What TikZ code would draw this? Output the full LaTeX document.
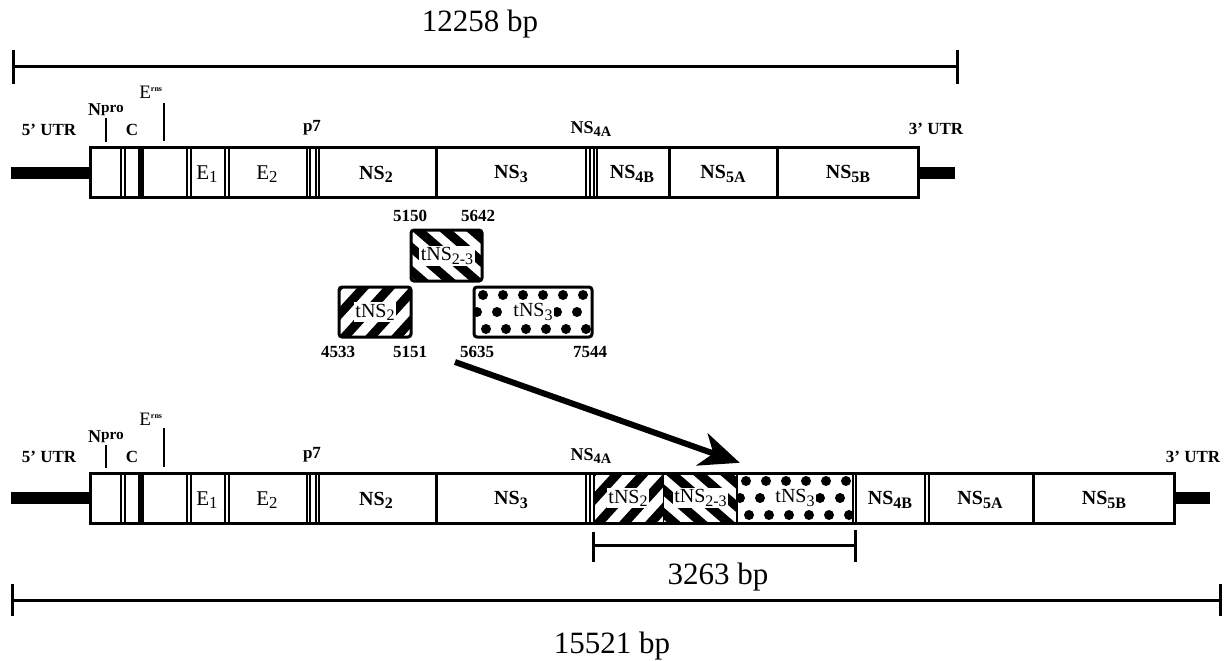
\documentclass[tikz,border=0pt]{standalone}
\usepackage{fontspec}
\usepackage{graphicx}
\setmainfont{Liberation Serif}
\usetikzlibrary{arrows.meta}
\newcommand\sbs[1]{\raisebox{-0.35ex}{\scalebox{0.8}{#1}}}
\newcommand\sps[1]{\raisebox{0.45ex}{\scalebox{0.85}{#1}}}
\tikzset{
 lbl/.style={font=\fontsize{17}{19}\selectfont\bfseries, inner sep=0pt},
 boxlbl/.style={font=\fontsize{20}{22}\selectfont\bfseries, inner sep=0pt},
 elbl/.style={font=\fontsize{21}{23}\selectfont, inner sep=0pt},
 numlbl/.style={font=\fontsize{17}{19}\selectfont\bfseries, inner sep=0pt},
 tlbl/.style={font=\fontsize{20}{22}\selectfont, fill=white, inner sep=1.5pt},
 bplbl/.style={font=\fontsize{31}{34}\selectfont, inner sep=0pt},
 outline/.style={line width=3pt},
 divl/.style={line width=2pt},
 divk/.style={line width=3pt},
 utrbar/.style={line width=12pt},
 scalebar/.style={line width=3pt},
 tickl/.style={line width=2pt},
 frag/.style={line width=3pt, rounded corners=3pt},
 bigarrow/.style={line width=6pt, -{Stealth[length=40pt,width=34pt,inset=12pt]}},
}
\newcommand\stripeup[4]{%
 \begin{scope}
 \clip[rounded corners=3pt] (#1,#2) rectangle (#3,#4);
 \foreach \i in {-3,...,5} \draw[line width=9pt] ({#1+\i*26},{#4+6}) -- ++(62,-68);
 \end{scope}}
\newcommand\stripedown[4]{%
 \begin{scope}
 \clip[rounded corners=3pt] (#1,#2) rectangle (#3,#4);
 \foreach \i in {-4,...,5} \draw[line width=9pt] ({#1+\i*27},{#2-6}) -- ++(74,64);
 \end{scope}}
\newcommand\dotpat[4]{%
 \begin{scope}
 \clip (#1,#2) rectangle (#3,#4);
 \foreach \i in {0,...,6} {
   \fill ({#1+9+\i*20},{#2+8}) circle (5);
   \fill ({#1+3+\i*20},{#2+25}) circle (5);
   \fill ({#1+12+\i*20},{#2+42}) circle (5);
 }
 \end{scope}}
\begin{document}
\begin{tikzpicture}[x=1pt,y=-1pt]
\useasboundingbox (0,0) rectangle (1229,661);

% ---------- top scale bar
\coordinate (sa1) at (13,67);
\coordinate (sa2) at (957,67);
\draw[scalebar] (sa1) -- (sa2);
\draw[scalebar] (13,50) -- (13,84);
\draw[scalebar] (957,50) -- (957,84);
\node[bplbl] (bp1) at (480,24) {12258 bp};

% ---------- top row
\draw[utrbar] (11,172.5) -- (90,172.5);
\draw[utrbar] (918,172.5) -- (955,172.5);
\draw[outline] (90,147) rectangle (918,197);
\foreach \xx in {121,125,187,190.5,225,228.5,306.5,309.5,316,319,586,589.5,593.5,597}
  \draw[divl] (\xx,147) -- (\xx,197);
\foreach \xx in {436,669.5,777}
  \draw[divk] (\xx,147) -- (\xx,197);
\fill (138,147) rectangle (144,197);
\node[elbl] (tE1) at (207,174) {E\sbs{1}};
\node[elbl] (tE2) at (267,174) {E\sbs{2}};
\node[boxlbl] (tNS2) at (376,174) {NS\sbs{2}};
\node[boxlbl] (tNS3) at (511,174) {NS\sbs{3}};
\node[boxlbl] (tNS4B) at (632,174) {NS\sbs{4B}};
\node[boxlbl] (tNS5A) at (723,174) {NS\sbs{5A}};
\node[boxlbl] (tNS5B) at (848,174) {NS\sbs{5B}};
\node[lbl] (tutr5) at (49,130) {5' UTR};
\node[lbl] (tC) at (132,130) {C};
\node[lbl] (tp7) at (312,128) {p7};
\node[lbl, font=\fontsize{18}{20}\selectfont\bfseries] (tNS4A) at (591,129) {NS\sbs{4A}};
\node[lbl] (tutr3) at (936,129) {3' UTR};
\node[lbl, font=\fontsize{18}{20}\selectfont\bfseries] (tNpro) at (106,110) {N\sps{pro}};
\node[lbl, font=\fontsize{19}{21}\selectfont] (tErns) at (151,92) {E\textsuperscript{\fontsize{8}{9}\selectfont\bfseries rns}};
\draw[tickl] (106,118) -- (106,142);
\draw[tickl] (164,103) -- (164,141);

% ---------- fragments
\stripedown{411}{230}{482}{281}
\draw[frag] (411,230) rectangle (482,281);
\node[tlbl] (f23) at (447,256) {tNS\sbs{2-3}};
\stripeup{339}{287}{411}{337}
\draw[frag] (339,287) rectangle (411,337);
\node[tlbl] (f2) at (375,312) {tNS\sbs{2}};
\dotpat{474}{287}{592}{337}
\draw[frag] (474,287) rectangle (592,337);
\node[tlbl] (f3) at (533,312) {tNS\sbs{3}};
\node[numlbl] (n5150) at (410,216) {5150};
\node[numlbl] (n5642) at (478,216) {5642};
\node[numlbl] (n4533) at (338,352) {4533};
\node[numlbl] (n5151) at (410,352) {5151};
\node[numlbl] (n5635) at (477,352) {5635};
\node[numlbl] (n7544) at (590,352) {7544};

% ---------- bottom row
\draw[utrbar] (11,498) -- (90,498);
\draw[utrbar] (1174,498) -- (1210,498);
\stripeup{593}{473}{663}{523}
\stripedown{664}{473}{737}{523}
\dotpat{737}{473}{853}{523}
\draw[outline] (90,473) rectangle (1174,523);
\foreach \xx in {121,125,187,190.5,225,228.5,306.5,309.5,316,319,586,589.5,593.5,853,856,925,928.5}
  \draw[divl] (\xx,473) -- (\xx,523);
\foreach \xx in {436,1033}
  \draw[divk] (\xx,473) -- (\xx,523);
\draw[line width=1.5pt] (663.5,473) -- (663.5,523);
\draw[line width=1.5pt] (737,473) -- (737,523);
\fill (138,473) rectangle (144,523);
\node[elbl] (bE1) at (207,500) {E\sbs{1}};
\node[elbl] (bE2) at (267,500) {E\sbs{2}};
\node[boxlbl] (bNS2) at (376,500) {NS\sbs{2}};
\node[boxlbl] (bNS3) at (511,500) {NS\sbs{3}};
\node[tlbl] (bt2) at (628,498) {tNS\sbs{2}};
\node[tlbl] (bt23) at (700.5,498) {tNS\sbs{2-3}};
\node[tlbl] (bt3) at (795,498) {tNS\sbs{3}};
\node[inner sep=0pt, minimum width=116pt, minimum height=50pt] (bB3) at (795,498) {};
\node[boxlbl] (bNS4B) at (890,500) {NS\sbs{4B}};
\node[boxlbl] (bNS5A) at (980,500) {NS\sbs{5A}};
\node[boxlbl] (bNS5B) at (1104,500) {NS\sbs{5B}};
\node[lbl] (butr5) at (49,457) {5' UTR};
\node[lbl] (bC) at (132,457) {C};
\node[lbl] (bp7) at (312,455) {p7};
\node[lbl, font=\fontsize{18}{20}\selectfont\bfseries] (bNS4A) at (591,456) {NS\sbs{4A}};
\node[lbl] (butr3) at (1193,457) {3' UTR};
\node[lbl, font=\fontsize{18}{20}\selectfont\bfseries] (bNpro) at (106,437) {N\sps{pro}};
\node[lbl, font=\fontsize{19}{21}\selectfont] (bErns) at (151,419) {E\textsuperscript{\fontsize{8}{9}\selectfont\bfseries rns}};
\draw[tickl] (106,445) -- (106,468);
\draw[tickl] (164,428) -- (164,467);

% ---------- arrow
\coordinate (arS) at (455,362);
\draw[bigarrow] (arS) -- ([xshift=3pt,yshift=10pt]bB3.north west);

% ---------- 3263 bp bar
\draw[scalebar] (593,545) -- (855,545);
\draw[scalebar] (593,532) -- (593,562);
\draw[scalebar] (855,530) -- (855,562);
\node[bplbl] (bp3) at (718,577) {3263 bp};

% ---------- bottom scale bar
\draw[scalebar] (12,600) -- (1220,600);
\draw[scalebar] (12,584) -- (12,616);
\draw[scalebar] (1220,584) -- (1220,616);
\node[bplbl] (bp2) at (612,646) {15521 bp};
\end{tikzpicture}
\end{document}
